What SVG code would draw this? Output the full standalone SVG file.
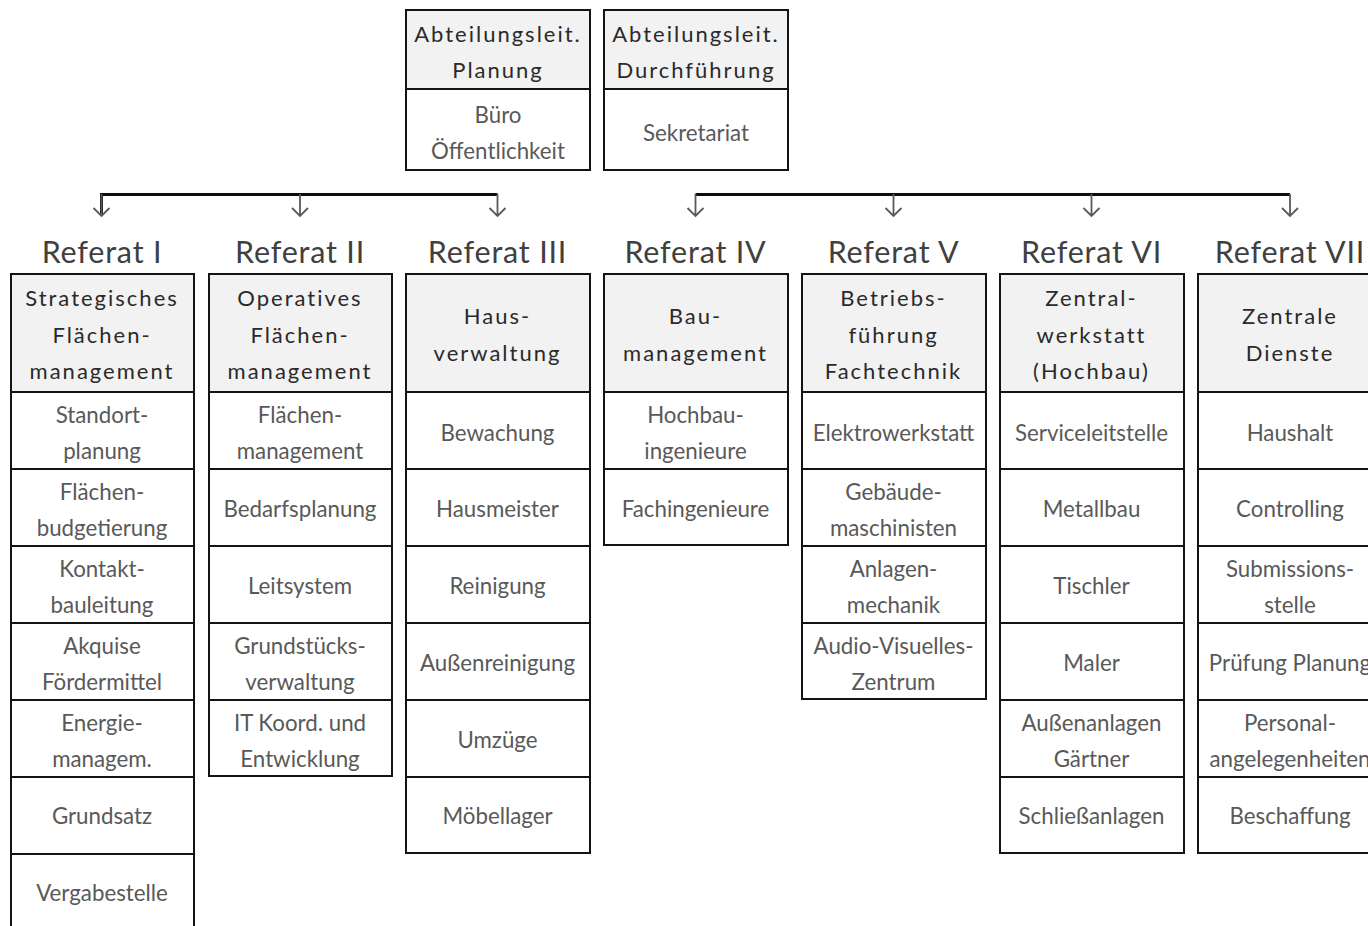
<svg xmlns="http://www.w3.org/2000/svg" width="1368" height="926" viewBox="0 0 1368 926">
<style>
.bg{fill:#ffffff}
.hd{fill:#f2f2f2;stroke:#141414;stroke-width:2}
.cell{fill:#ffffff;stroke:#141414;stroke-width:2}
.ht{font-family:Lato,"Open Sans",sans-serif;font-size:22px;fill:#2a2a2a;text-anchor:middle;letter-spacing:2px}
.rt{font-family:Lato,"Open Sans",sans-serif;font-size:22.3px;fill:#595959;text-anchor:middle}
.tt{font-family:Lato,"Open Sans",sans-serif;font-size:30.5px;fill:#404040;text-anchor:middle;letter-spacing:0.8px}
.bus{stroke:#0d0d0d;stroke-width:3;fill:none}
.stem{stroke:#5a5a5a;stroke-width:1.8;fill:none}
</style>
<rect class="bg" x="0" y="0" width="1368" height="926"/>

<g id="connectors">
<polyline class="bus" points="101.5,216 101.5,194.5 497.5,194.5"/>
<polyline class="bus" points="695.5,194.5 1290,194.5"/>
<g class="stem">
<path d="M101.5,194 V216 M93.5,208 L101.5,216 L109.5,208"/>
<path d="M300,194 V216 M292,208 L300,216 L308,208"/>
<path d="M497.5,194 V216 M489.5,208 L497.5,216 L505.5,208"/>
<path d="M695.5,194 V216 M687.5,208 L695.5,216 L703.5,208"/>
<path d="M893.5,194 V216 M885.5,208 L893.5,216 L901.5,208"/>
<path d="M1091.5,194 V216 M1083.5,208 L1091.5,216 L1099.5,208"/>
<path d="M1290,194 V216 M1282,208 L1290,216 L1298,208"/>
</g>
</g>

<g id="abt-planung">
<rect class="hd" x="406" y="10" width="184" height="79"/>
<rect class="cell" x="406" y="89" width="184" height="81"/>
<text class="ht" x="498" y="42">Abteilungsleit.</text>
<text class="ht" x="498" y="78">Planung</text>
<text class="rt" x="498" y="123">Büro</text>
<text class="rt" x="498" y="159">Öffentlichkeit</text>
</g>

<g id="abt-durchfuehrung">
<rect class="hd" x="604" y="10" width="184" height="79"/>
<rect class="cell" x="604" y="89" width="184" height="81"/>
<text class="ht" x="696" y="42">Abteilungsleit.</text>
<text class="ht" x="696" y="78">Durchführung</text>
<text class="rt" x="696" y="141">Sekretariat</text>
</g>

<g id="referat-1">
<text class="tt" x="102" y="263">Referat I</text>
<rect class="hd" x="11" y="274" width="183" height="118"/>
<text class="ht" x="102" y="306">Strategisches</text>
<text class="ht" x="102" y="343">Flächen-</text>
<text class="ht" x="102" y="379">management</text>
<rect class="cell" x="11" y="392" width="183" height="77"/>
<text class="rt" x="102" y="423">Standort-</text>
<text class="rt" x="102" y="459">planung</text>
<rect class="cell" x="11" y="469" width="183" height="77"/>
<text class="rt" x="102" y="500">Flächen-</text>
<text class="rt" x="102" y="536">budgetierung</text>
<rect class="cell" x="11" y="546" width="183" height="77"/>
<text class="rt" x="102" y="577">Kontakt-</text>
<text class="rt" x="102" y="613">bauleitung</text>
<rect class="cell" x="11" y="623" width="183" height="77"/>
<text class="rt" x="102" y="654">Akquise</text>
<text class="rt" x="102" y="690">Fördermittel</text>
<rect class="cell" x="11" y="700" width="183" height="77"/>
<text class="rt" x="102" y="731">Energie-</text>
<text class="rt" x="102" y="767">managem.</text>
<rect class="cell" x="11" y="777" width="183" height="77"/>
<text class="rt" x="102" y="824">Grundsatz</text>
<rect class="cell" x="11" y="854" width="183" height="80"/>
<text class="rt" x="102" y="901">Vergabestelle</text>
</g>

<g id="referat-2">
<text class="tt" x="300" y="263">Referat II</text>
<rect class="hd" x="209" y="274" width="183" height="118"/>
<text class="ht" x="300" y="306">Operatives</text>
<text class="ht" x="300" y="343">Flächen-</text>
<text class="ht" x="300" y="379">management</text>
<rect class="cell" x="209" y="392" width="183" height="77"/>
<text class="rt" x="300" y="423">Flächen-</text>
<text class="rt" x="300" y="459">management</text>
<rect class="cell" x="209" y="469" width="183" height="77"/>
<text class="rt" x="300" y="517">Bedarfsplanung</text>
<rect class="cell" x="209" y="546" width="183" height="77"/>
<text class="rt" x="300" y="594">Leitsystem</text>
<rect class="cell" x="209" y="623" width="183" height="77"/>
<text class="rt" x="300" y="654">Grundstücks-</text>
<text class="rt" x="300" y="690">verwaltung</text>
<rect class="cell" x="209" y="700" width="183" height="76"/>
<text class="rt" x="300" y="731">IT Koord. und</text>
<text class="rt" x="300" y="767">Entwicklung</text>
</g>

<g id="referat-3">
<text class="tt" x="497.5" y="263">Referat III</text>
<rect class="hd" x="406" y="274" width="184" height="118"/>
<text class="ht" x="497.5" y="324">Haus-</text>
<text class="ht" x="497.5" y="361">verwaltung</text>
<rect class="cell" x="406" y="392" width="184" height="77"/>
<text class="rt" x="497.5" y="441">Bewachung</text>
<rect class="cell" x="406" y="469" width="184" height="77"/>
<text class="rt" x="497.5" y="517">Hausmeister</text>
<rect class="cell" x="406" y="546" width="184" height="77"/>
<text class="rt" x="497.5" y="594">Reinigung</text>
<rect class="cell" x="406" y="623" width="184" height="77"/>
<text class="rt" x="497.5" y="671">Außenreinigung</text>
<rect class="cell" x="406" y="700" width="184" height="77"/>
<text class="rt" x="497.5" y="748">Umzüge</text>
<rect class="cell" x="406" y="777" width="184" height="76"/>
<text class="rt" x="497.5" y="824">Möbellager</text>
</g>

<g id="referat-4">
<text class="tt" x="695.5" y="263">Referat IV</text>
<rect class="hd" x="604" y="274" width="184" height="118"/>
<text class="ht" x="695.5" y="324">Bau-</text>
<text class="ht" x="695.5" y="361">management</text>
<rect class="cell" x="604" y="392" width="184" height="77"/>
<text class="rt" x="695.5" y="423">Hochbau-</text>
<text class="rt" x="695.5" y="459">ingenieure</text>
<rect class="cell" x="604" y="469" width="184" height="76"/>
<text class="rt" x="695.5" y="517">Fachingenieure</text>
</g>

<g id="referat-5">
<text class="tt" x="893.5" y="263">Referat V</text>
<rect class="hd" x="802" y="274" width="184" height="118"/>
<text class="ht" x="893.5" y="306">Betriebs-</text>
<text class="ht" x="893.5" y="343">führung</text>
<text class="ht" x="893.5" y="379">Fachtechnik</text>
<rect class="cell" x="802" y="392" width="184" height="77"/>
<text class="rt" x="893.5" y="441">Elektrowerkstatt</text>
<rect class="cell" x="802" y="469" width="184" height="77"/>
<text class="rt" x="893.5" y="500">Gebäude-</text>
<text class="rt" x="893.5" y="536">maschinisten</text>
<rect class="cell" x="802" y="546" width="184" height="77"/>
<text class="rt" x="893.5" y="577">Anlagen-</text>
<text class="rt" x="893.5" y="613">mechanik</text>
<rect class="cell" x="802" y="623" width="184" height="76"/>
<text class="rt" x="893.5" y="654">Audio-Visuelles-</text>
<text class="rt" x="893.5" y="690">Zentrum</text>
</g>

<g id="referat-6">
<text class="tt" x="1091.5" y="263">Referat VI</text>
<rect class="hd" x="1000" y="274" width="184" height="118"/>
<text class="ht" x="1091.5" y="306">Zentral-</text>
<text class="ht" x="1091.5" y="343">werkstatt</text>
<text class="ht" x="1091.5" y="379">(Hochbau)</text>
<rect class="cell" x="1000" y="392" width="184" height="77"/>
<text class="rt" x="1091.5" y="441">Serviceleitstelle</text>
<rect class="cell" x="1000" y="469" width="184" height="77"/>
<text class="rt" x="1091.5" y="517">Metallbau</text>
<rect class="cell" x="1000" y="546" width="184" height="77"/>
<text class="rt" x="1091.5" y="594">Tischler</text>
<rect class="cell" x="1000" y="623" width="184" height="77"/>
<text class="rt" x="1091.5" y="671">Maler</text>
<rect class="cell" x="1000" y="700" width="184" height="77"/>
<text class="rt" x="1091.5" y="731">Außenanlagen</text>
<text class="rt" x="1091.5" y="767">Gärtner</text>
<rect class="cell" x="1000" y="777" width="184" height="76"/>
<text class="rt" x="1091.5" y="824">Schließanlagen</text>
</g>

<g id="referat-7">
<text class="tt" x="1290" y="263">Referat VII</text>
<rect class="hd" x="1198" y="274" width="184" height="118"/>
<text class="ht" x="1290" y="324">Zentrale</text>
<text class="ht" x="1290" y="361">Dienste</text>
<rect class="cell" x="1198" y="392" width="184" height="77"/>
<text class="rt" x="1290" y="441">Haushalt</text>
<rect class="cell" x="1198" y="469" width="184" height="77"/>
<text class="rt" x="1290" y="517">Controlling</text>
<rect class="cell" x="1198" y="546" width="184" height="77"/>
<text class="rt" x="1290" y="577">Submissions-</text>
<text class="rt" x="1290" y="613">stelle</text>
<rect class="cell" x="1198" y="623" width="184" height="77"/>
<text class="rt" x="1290" y="671">Prüfung Planung</text>
<rect class="cell" x="1198" y="700" width="184" height="77"/>
<text class="rt" x="1290" y="731">Personal-</text>
<text class="rt" x="1290" y="767">angelegenheiten</text>
<rect class="cell" x="1198" y="777" width="184" height="76"/>
<text class="rt" x="1290" y="824">Beschaffung</text>
</g>
</svg>
